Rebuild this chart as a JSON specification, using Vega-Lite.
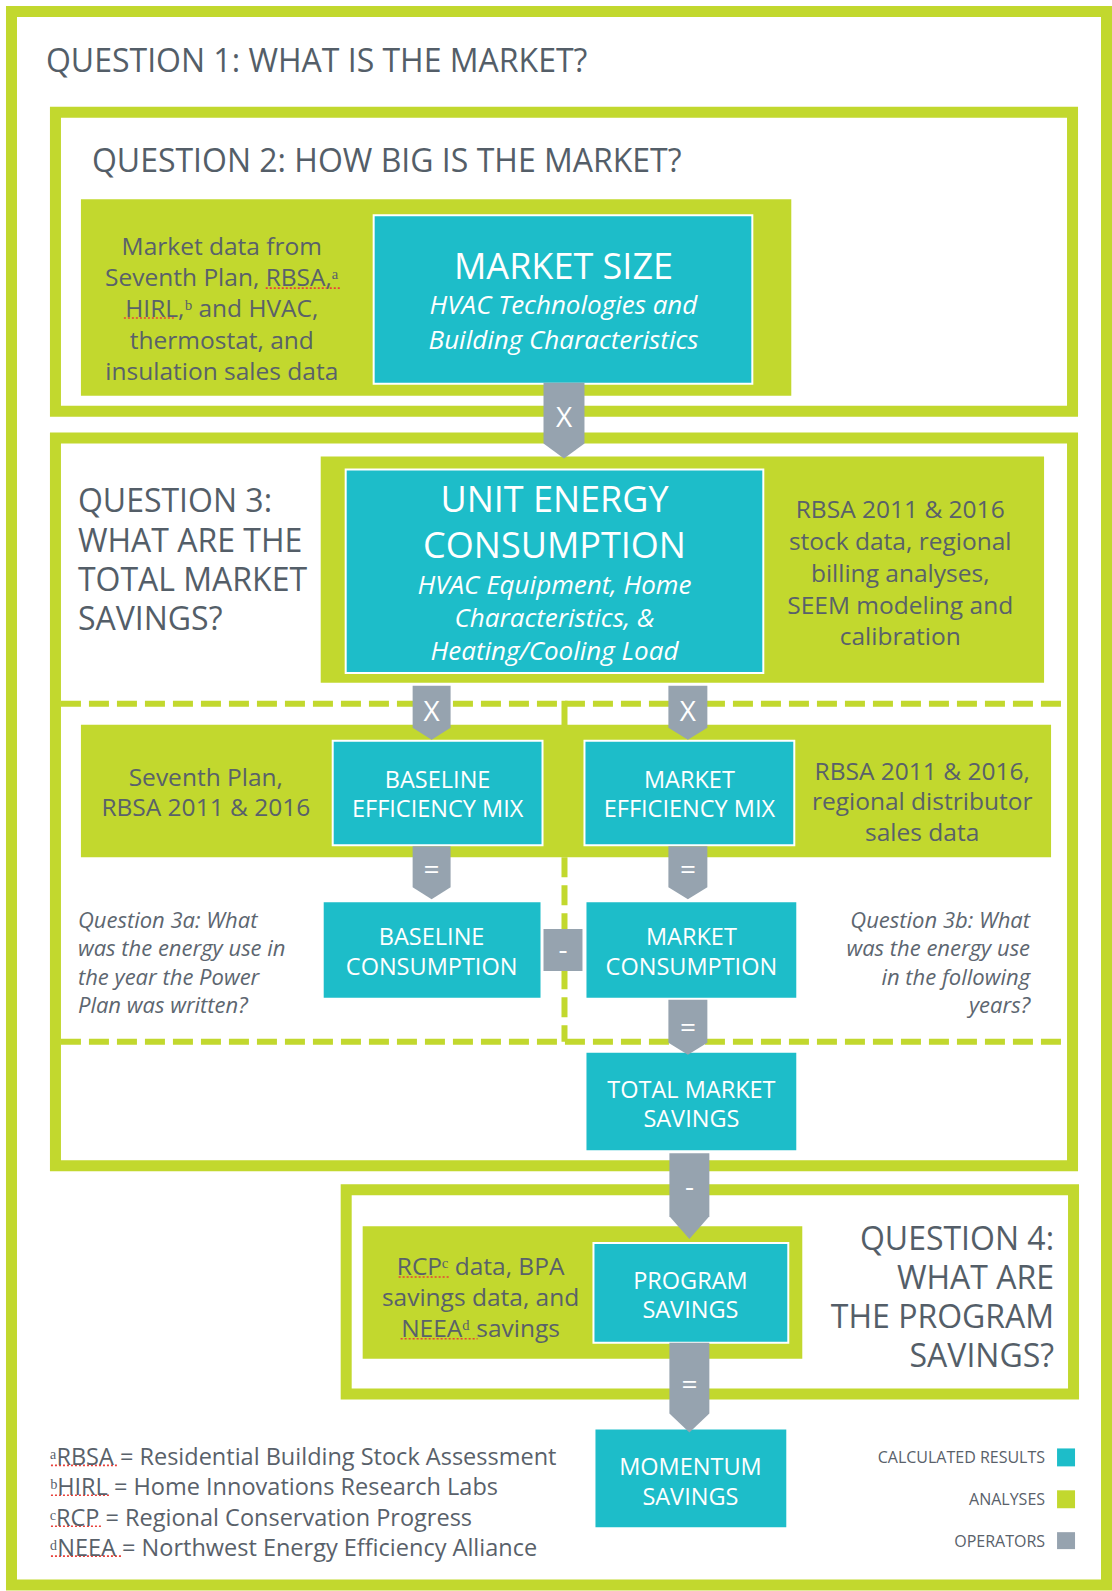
{
  "$schema": "https://vega.github.io/schema/vega-lite/v6.json",
  "width": 1112,
  "height": 1591,
  "autosize": {"type": "fit", "contains": "padding"},
  "padding": 0,
  "background": "white",
  "config": {"view": {"stroke": null}, "font": "Open Sans"},
  "datasets": {
    "frames": [
      {"name": "Question 1", "x": 11.5, "x2": 1107.5, "y": 11.5, "y2": 1590},
      {"name": "Question 2", "x": 55.5, "x2": 1073.5, "y": 112.5, "y2": 412.5},
      {"name": "Question 3", "x": 55.5, "x2": 1073.5, "y": 439.5, "y2": 1169.5},
      {"name": "Question 4", "x": 346.5, "x2": 1074.5, "y": 1193.5, "y2": 1398.5}
    ],
    "analyses": [
      {"id": "Market size inputs", "kind": "ANALYSES", "x": 81, "x2": 792, "y": 200, "y2": 397},
      {"id": "UEC inputs", "kind": "ANALYSES", "x": 321, "x2": 1045, "y": 458, "y2": 685},
      {"id": "Efficiency mix inputs", "kind": "ANALYSES", "x": 81, "x2": 1052, "y": 727, "y2": 860},
      {"id": "Program inputs", "kind": "ANALYSES", "x": 363, "x2": 803, "y": 1230, "y2": 1363}
    ],
    "results": [
      {"id": "MARKET SIZE", "kind": "CALCULATED RESULTS", "x": 374, "x2": 753, "y": 216, "y2": 385},
      {"id": "UNIT ENERGY CONSUMPTION", "kind": "CALCULATED RESULTS", "x": 346, "x2": 764, "y": 471, "y2": 675},
      {"id": "BASELINE EFFICIENCY MIX", "kind": "CALCULATED RESULTS", "x": 333, "x2": 543, "y": 743, "y2": 848},
      {"id": "MARKET EFFICIENCY MIX", "kind": "CALCULATED RESULTS", "x": 585, "x2": 795, "y": 743, "y2": 848},
      {"id": "BASELINE CONSUMPTION", "kind": "CALCULATED RESULTS", "x": 323, "x2": 542, "y": 904, "y2": 1002},
      {"id": "MARKET CONSUMPTION", "kind": "CALCULATED RESULTS", "x": 586, "x2": 798, "y": 904, "y2": 1002},
      {"id": "TOTAL MARKET SAVINGS", "kind": "CALCULATED RESULTS", "x": 586, "x2": 798, "y": 1055, "y2": 1155},
      {"id": "PROGRAM SAVINGS", "kind": "CALCULATED RESULTS", "x": 594, "x2": 789, "y": 1247, "y2": 1347},
      {"id": "MOMENTUM SAVINGS", "kind": "CALCULATED RESULTS", "x": 595, "x2": 788, "y": 1433, "y2": 1533}
    ],
    "legendKeys": [
      {"kind": "CALCULATED RESULTS", "x": 1058, "x2": 1076, "y": 1453, "y2": 1471},
      {"kind": "ANALYSES", "x": 1058, "x2": 1076, "y": 1495, "y2": 1513},
      {"kind": "OPERATORS", "x": 1058, "x2": 1076, "y": 1537, "y2": 1554},
      {"kind": "OPERATORS", "x": 544, "x2": 583, "y": 932, "y2": 974}
    ],
    "operators": [
      {"id": "x1", "x": 544, "top": 384, "bot": 445}, {"id": "x1", "x": 564.5, "top": 384, "bot": 460}, {"id": "x1", "x": 585, "top": 384, "bot": 445},
      {"id": "x2", "x": 413, "top": 688, "bot": 730}, {"id": "x2", "x": 432, "top": 688, "bot": 742}, {"id": "x2", "x": 451, "top": 688, "bot": 730},
      {"id": "x3", "x": 669, "top": 688, "bot": 730}, {"id": "x3", "x": 688.5, "top": 688, "bot": 742}, {"id": "x3", "x": 708, "top": 688, "bot": 730},
      {"id": "e1", "x": 413, "top": 849, "bot": 890}, {"id": "e1", "x": 432, "top": 849, "bot": 902}, {"id": "e1", "x": 451, "top": 849, "bot": 890},
      {"id": "e2", "x": 669, "top": 849, "bot": 890}, {"id": "e2", "x": 688.5, "top": 849, "bot": 902}, {"id": "e2", "x": 708, "top": 849, "bot": 890},
      {"id": "e3", "x": 669, "top": 1003, "bot": 1046}, {"id": "e3", "x": 688.5, "top": 1003, "bot": 1058}, {"id": "e3", "x": 708, "top": 1003, "bot": 1046},
      {"id": "m2", "x": 670, "top": 1157, "bot": 1220}, {"id": "m2", "x": 690, "top": 1157, "bot": 1243}, {"id": "m2", "x": 710, "top": 1157, "bot": 1220},
      {"id": "e4", "x": 670, "top": 1347, "bot": 1418}, {"id": "e4", "x": 690, "top": 1347, "bot": 1437}, {"id": "e4", "x": 710, "top": 1347, "bot": 1418}
    ],
    "dividers": [
      {"x": 61, "x2": 1067, "y": 706, "y2": 706, "dashed": true},
      {"x": 61, "x2": 1067, "y": 1045, "y2": 1045, "dashed": true},
      {"x": 565, "x2": 565, "y": 860, "y2": 1045, "dashed": true},
      {"x": 565, "x2": 565, "y": 703, "y2": 730, "dashed": false}
    ],
    "spellcheck": [
      {"word": "RBSA,a", "x": 266, "x2": 341, "y": 289},
      {"word": "HIRL,b", "x": 124, "x2": 174, "y": 319},
      {"word": "RCPc", "x": 399, "x2": 450, "y": 1281},
      {"word": "NEEAd", "x": 401, "x2": 478, "y": 1343},
      {"word": "aRBSA", "x": 51, "x2": 117, "y": 1470},
      {"word": "bHIRL", "x": 51, "x2": 110, "y": 1500},
      {"word": "cRCP", "x": 51, "x2": 101, "y": 1531},
      {"word": "dNEEA", "x": 51, "x2": 122, "y": 1561}
    ],
    "texts": [
      {"g": "qt", "text": "QUESTION 1: WHAT IS THE MARKET?", "x": 46, "y": 59},
      {"g": "qt", "text": "QUESTION 2: HOW BIG IS THE MARKET?", "x": 92, "y": 160},
      {"g": "qt", "text": "QUESTION 3:", "x": 78, "y": 501},
      {"g": "qt", "text": "WHAT ARE THE", "x": 78, "y": 541},
      {"g": "qt", "text": "TOTAL MARKET", "x": 78, "y": 580},
      {"g": "qt", "text": "SAVINGS?", "x": 78, "y": 619},
      {"g": "q4", "text": "QUESTION 4:", "x": 1055, "y": 1238},
      {"g": "q4", "text": "WHAT ARE", "x": 1055, "y": 1277},
      {"g": "q4", "text": "THE PROGRAM", "x": 1055, "y": 1316},
      {"g": "q4", "text": "SAVINGS?", "x": 1055, "y": 1355},
      {"g": "an", "text": "Market data from", "x": 222, "y": 245},
      {"g": "an", "text": "Seventh Plan, RBSA,ᵃ", "x": 222, "y": 276},
      {"g": "an", "text": "HIRL,ᵇ and HVAC,", "x": 222, "y": 307},
      {"g": "an", "text": "thermostat, and", "x": 222, "y": 339},
      {"g": "an", "text": "insulation sales data", "x": 222, "y": 370},
      {"g": "an", "text": "RBSA 2011 & 2016", "x": 901, "y": 509},
      {"g": "an", "text": "stock data, regional", "x": 901, "y": 541},
      {"g": "an", "text": "billing analyses,", "x": 901, "y": 573},
      {"g": "an", "text": "SEEM modeling and", "x": 901, "y": 605},
      {"g": "an", "text": "calibration", "x": 901, "y": 636},
      {"g": "an", "text": "Seventh Plan,", "x": 206, "y": 777},
      {"g": "an", "text": "RBSA 2011 & 2016", "x": 206, "y": 808},
      {"g": "an", "text": "RBSA 2011 & 2016,", "x": 923, "y": 771},
      {"g": "an", "text": "regional distributor", "x": 923, "y": 802},
      {"g": "an", "text": "sales data", "x": 923, "y": 833},
      {"g": "an", "text": "RCPᶜ data, BPA", "x": 481, "y": 1268},
      {"g": "an", "text": "savings data, and", "x": 481, "y": 1299},
      {"g": "an", "text": "NEEAᵈ savings", "x": 481, "y": 1330},
      {"g": "big1", "text": "MARKET SIZE", "x": 564, "y": 266},
      {"g": "big2", "text": "UNIT ENERGY", "x": 555, "y": 499},
      {"g": "big2", "text": "CONSUMPTION", "x": 555, "y": 545},
      {"g": "it", "text": "HVAC Technologies and", "x": 564, "y": 304},
      {"g": "it", "text": "Building Characteristics", "x": 564, "y": 339},
      {"g": "it", "text": "HVAC Equipment, Home", "x": 555, "y": 585},
      {"g": "it", "text": "Characteristics, &", "x": 555, "y": 618},
      {"g": "it", "text": "Heating/Cooling Load", "x": 555, "y": 651},
      {"g": "lab", "text": "BASELINE", "x": 438, "y": 779},
      {"g": "lab", "text": "EFFICIENCY MIX", "x": 438, "y": 809},
      {"g": "lab", "text": "MARKET", "x": 690, "y": 779},
      {"g": "lab", "text": "EFFICIENCY MIX", "x": 690, "y": 809},
      {"g": "lab", "text": "BASELINE", "x": 432, "y": 937},
      {"g": "lab", "text": "CONSUMPTION", "x": 432, "y": 967},
      {"g": "lab", "text": "MARKET", "x": 692, "y": 937},
      {"g": "lab", "text": "CONSUMPTION", "x": 692, "y": 967},
      {"g": "lab", "text": "TOTAL MARKET", "x": 692, "y": 1090},
      {"g": "lab", "text": "SAVINGS", "x": 692, "y": 1120},
      {"g": "lab", "text": "PROGRAM", "x": 691, "y": 1282},
      {"g": "lab", "text": "SAVINGS", "x": 691, "y": 1311},
      {"g": "lab", "text": "MOMENTUM", "x": 691, "y": 1469},
      {"g": "lab", "text": "SAVINGS", "x": 691, "y": 1499},
      {"g": "qa", "text": "Question 3a: What", "x": 78, "y": 920},
      {"g": "qa", "text": "was the energy use in", "x": 78, "y": 948},
      {"g": "qa", "text": "the year the Power", "x": 78, "y": 977},
      {"g": "qa", "text": "Plan was written?", "x": 78, "y": 1005},
      {"g": "qb", "text": "Question 3b: What", "x": 1031, "y": 920},
      {"g": "qb", "text": "was the energy use", "x": 1031, "y": 948},
      {"g": "qb", "text": "in the following", "x": 1031, "y": 977},
      {"g": "qb", "text": "years?", "x": 1031, "y": 1005},
      {"g": "fn", "text": "ᵃRBSA = Residential Building Stock Assessment", "x": 50, "y": 1458},
      {"g": "fn", "text": "ᵇHIRL = Home Innovations Research Labs", "x": 50, "y": 1488},
      {"g": "fn", "text": "ᶜRCP = Regional Conservation Progress", "x": 50, "y": 1519},
      {"g": "fn", "text": "ᵈNEEA = Northwest Energy Efficiency Alliance", "x": 50, "y": 1549},
      {"g": "lg", "text": "CALCULATED RESULTS", "x": 1046, "y": 1461},
      {"g": "lg", "text": "ANALYSES", "x": 1046, "y": 1503},
      {"g": "lg", "text": "OPERATORS", "x": 1046, "y": 1545},
      {"g": "op", "text": "X", "x": 564.5, "y": 417},
      {"g": "op", "text": "X", "x": 432, "y": 712},
      {"g": "op", "text": "X", "x": 688.5, "y": 712},
      {"g": "op", "text": "=", "x": 432, "y": 871},
      {"g": "op", "text": "=", "x": 688.5, "y": 871},
      {"g": "op", "text": "-", "x": 563.5, "y": 951},
      {"g": "op", "text": "=", "x": 688.5, "y": 1029},
      {"g": "op", "text": "-", "x": 690, "y": 1189},
      {"g": "op", "text": "=", "x": 690, "y": 1387}
    ]
  },
  "layer": [
    {
      "data": {"name": "frames"},
      "mark": {"type": "rect", "filled": false, "stroke": "#c2d82e", "strokeWidth": 11},
      "encoding": {
        "x": {"field": "x", "type": "quantitative", "scale": {"domain": [0, 1112], "nice": false, "zero": false}, "axis": null},
        "x2": {"field": "x2"},
        "y": {"field": "y", "type": "quantitative", "scale": {"domain": [0, 1591], "reverse": true, "nice": false, "zero": false}, "axis": null},
        "y2": {"field": "y2"}
      }
    },
    {
      "data": {"name": "dividers"},
      "transform": [{"filter": "datum.dashed"}],
      "mark": {"type": "rule", "stroke": "#c2d82e", "strokeWidth": 6, "strokeDash": [20, 8]},
      "encoding": {
        "x": {"field": "x", "type": "quantitative"},
        "x2": {"field": "x2"},
        "y": {"field": "y", "type": "quantitative"},
        "y2": {"field": "y2"}
      }
    },
    {
      "data": {"name": "dividers"},
      "transform": [{"filter": "!datum.dashed"}],
      "mark": {"type": "rule", "stroke": "#c2d82e", "strokeWidth": 6},
      "encoding": {
        "x": {"field": "x", "type": "quantitative"},
        "x2": {"field": "x2"},
        "y": {"field": "y", "type": "quantitative"},
        "y2": {"field": "y2"}
      }
    },
    {
      "data": {"name": "analyses"},
      "mark": {"type": "rect"},
      "encoding": {
        "x": {"field": "x", "type": "quantitative"},
        "x2": {"field": "x2"},
        "y": {"field": "y", "type": "quantitative"},
        "y2": {"field": "y2"},
        "color": {"field": "kind", "type": "nominal", "scale": {"domain": ["CALCULATED RESULTS", "ANALYSES", "OPERATORS"], "range": ["#1dbdc9", "#c2d82e", "#96a3af"]}, "legend": null}
      }
    },
    {
      "data": {"name": "results"},
      "mark": {"type": "rect", "stroke": "white", "strokeWidth": 2},
      "encoding": {
        "x": {"field": "x", "type": "quantitative"},
        "x2": {"field": "x2"},
        "y": {"field": "y", "type": "quantitative"},
        "y2": {"field": "y2"},
        "color": {"field": "kind", "type": "nominal", "legend": null}
      }
    },
    {
      "data": {"name": "legendKeys"},
      "mark": {"type": "rect"},
      "encoding": {
        "x": {"field": "x", "type": "quantitative"},
        "x2": {"field": "x2"},
        "y": {"field": "y", "type": "quantitative"},
        "y2": {"field": "y2"},
        "color": {"field": "kind", "type": "nominal", "legend": null}
      }
    },
    {
      "data": {"name": "operators"},
      "mark": {"type": "area", "orient": "vertical", "color": "#96a3af", "interpolate": "linear"},
      "encoding": {
        "x": {"field": "x", "type": "quantitative"},
        "y": {"field": "top", "type": "quantitative"},
        "y2": {"field": "bot"},
        "detail": {"field": "id", "type": "nominal"}
      }
    },
    {
      "data": {"name": "spellcheck"},
      "mark": {"type": "rule", "stroke": "#e8403a", "strokeWidth": 1.6, "strokeDash": [2, 2]},
      "encoding": {
        "x": {"field": "x", "type": "quantitative"},
        "x2": {"field": "x2"},
        "y": {"field": "y", "type": "quantitative"}
      }
    },
    {
      "data": {"name": "texts"},
      "transform": [{"filter": "datum.g == 'qt'"}],
      "mark": {"type": "text", "align": "left", "baseline": "middle", "dy": 3, "fontSize": 32, "color": "#545e68", "font": "Open Sans"},
      "encoding": {"x": {"field": "x", "type": "quantitative"}, "y": {"field": "y", "type": "quantitative"}, "text": {"field": "text"}}
    },
    {
      "data": {"name": "texts"},
      "transform": [{"filter": "datum.g == 'q4'"}],
      "mark": {"type": "text", "align": "right", "baseline": "middle", "dy": 6, "fontSize": 32, "color": "#545e68", "font": "Open Sans"},
      "encoding": {"x": {"field": "x", "type": "quantitative"}, "y": {"field": "y", "type": "quantitative"}, "text": {"field": "text"}}
    },
    {
      "data": {"name": "texts"},
      "transform": [{"filter": "datum.g == 'an'"}],
      "mark": {"type": "text", "align": "center", "baseline": "middle", "dy": 4, "fontSize": 24.5, "color": "#59616a", "font": "Open Sans"},
      "encoding": {"x": {"field": "x", "type": "quantitative"}, "y": {"field": "y", "type": "quantitative"}, "text": {"field": "text"}}
    },
    {
      "data": {"name": "texts"},
      "transform": [{"filter": "datum.g == 'big1'"}],
      "mark": {"type": "text", "align": "center", "baseline": "middle", "dy": 3, "fontSize": 36, "color": "white", "font": "Open Sans"},
      "encoding": {"x": {"field": "x", "type": "quantitative"}, "y": {"field": "y", "type": "quantitative"}, "text": {"field": "text"}}
    },
    {
      "data": {"name": "texts"},
      "transform": [{"filter": "datum.g == 'big2'"}],
      "mark": {"type": "text", "align": "center", "baseline": "middle", "dy": 4, "fontSize": 36, "color": "white", "font": "Open Sans"},
      "encoding": {"x": {"field": "x", "type": "quantitative"}, "y": {"field": "y", "type": "quantitative"}, "text": {"field": "text"}}
    },
    {
      "data": {"name": "texts"},
      "transform": [{"filter": "datum.g == 'it'"}],
      "mark": {"type": "text", "align": "center", "baseline": "middle", "dy": 3, "fontSize": 26, "fontStyle": "italic", "color": "white", "font": "Open Sans"},
      "encoding": {"x": {"field": "x", "type": "quantitative"}, "y": {"field": "y", "type": "quantitative"}, "text": {"field": "text"}}
    },
    {
      "data": {"name": "texts"},
      "transform": [{"filter": "datum.g == 'lab'"}],
      "mark": {"type": "text", "align": "center", "baseline": "middle", "dy": 4, "fontSize": 23.5, "color": "white", "font": "Open Sans"},
      "encoding": {"x": {"field": "x", "type": "quantitative"}, "y": {"field": "y", "type": "quantitative"}, "text": {"field": "text"}}
    },
    {
      "data": {"name": "texts"},
      "transform": [{"filter": "datum.g == 'qa'"}],
      "mark": {"type": "text", "align": "left", "baseline": "middle", "dy": 4, "fontSize": 22, "fontStyle": "italic", "color": "#5d6670", "font": "Open Sans"},
      "encoding": {"x": {"field": "x", "type": "quantitative"}, "y": {"field": "y", "type": "quantitative"}, "text": {"field": "text"}}
    },
    {
      "data": {"name": "texts"},
      "transform": [{"filter": "datum.g == 'qb'"}],
      "mark": {"type": "text", "align": "right", "baseline": "middle", "dy": 4, "fontSize": 22, "fontStyle": "italic", "color": "#5d6670", "font": "Open Sans"},
      "encoding": {"x": {"field": "x", "type": "quantitative"}, "y": {"field": "y", "type": "quantitative"}, "text": {"field": "text"}}
    },
    {
      "data": {"name": "texts"},
      "transform": [{"filter": "datum.g == 'fn'"}],
      "mark": {"type": "text", "align": "left", "baseline": "middle", "dy": 5, "fontSize": 23.5, "color": "#59616a", "font": "Open Sans"},
      "encoding": {"x": {"field": "x", "type": "quantitative"}, "y": {"field": "y", "type": "quantitative"}, "text": {"field": "text"}}
    },
    {
      "data": {"name": "texts"},
      "transform": [{"filter": "datum.g == 'lg'"}],
      "mark": {"type": "text", "align": "right", "baseline": "middle", "dy": 2, "fontSize": 16, "color": "#59616a", "font": "Open Sans"},
      "encoding": {"x": {"field": "x", "type": "quantitative"}, "y": {"field": "y", "type": "quantitative"}, "text": {"field": "text"}}
    },
    {
      "data": {"name": "texts"},
      "transform": [{"filter": "datum.g == 'op'"}],
      "mark": {"type": "text", "align": "center", "baseline": "middle", "dy": 3, "fontSize": 28, "color": "white", "font": "Open Sans"},
      "encoding": {"x": {"field": "x", "type": "quantitative"}, "y": {"field": "y", "type": "quantitative"}, "text": {"field": "text"}}
    }
  ]
}
